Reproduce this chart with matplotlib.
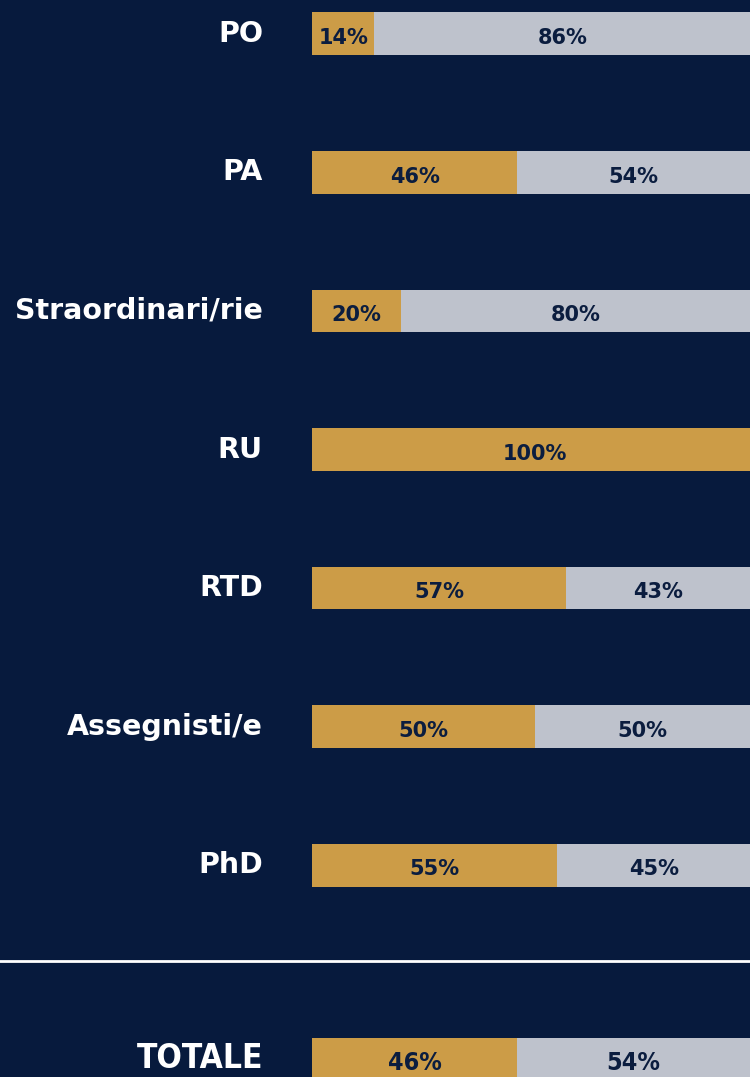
import numpy as np
import matplotlib.pyplot as plt
from matplotlib.lines import Line2D
from matplotlib.transforms import blended_transform_factory

# categories and shares (women / men)
categories = ["PO", "PA", "Straordinari/rie", "RU", "RTD", "Assegnisti/e", "PhD", "TOTALE"]
donne = [14, 46, 20, 100, 57, 50, 55, 46]
uomini = [86, 54, 80, 0, 43, 50, 45, 54]
row_pos = [0, 1, 2, 3, 4, 5, 6, 7.4]

BG = "#071a3d"
GOLD = "#cc9c47"
GREY = "#bec2cc"
DARK = "#0b1d3f"

fig = plt.figure(figsize=(7.5, 10.77), dpi=100, facecolor=BG)
ax = fig.add_axes([312 / 750, 0, 446 / 750, 1])
ax.set_facecolor(BG)
ax.set_xlim(0, 100)
ax.set_ylim(7.53, -0.245)
ax.axis("off")

h = 0.31
ax.barh(row_pos, donne, height=h, color=GOLD, linewidth=0)
ax.barh(row_pos, uomini, left=donne, height=h, color=GREY, linewidth=0)

for cat, y, d, u in zip(categories, row_pos, donne, uomini):
    total = cat == "TOTALE"
    stretch = "condensed" if total else "normal"
    ax.text(-11, y, cat, ha="right", va="center", color="white",
            fontsize=24 if total else 20.5, fontweight="bold",
            fontstretch=stretch, clip_on=False)
    size = 18 if total else 15
    if d > 0:
        ax.text(d / 2, y + 0.03, f"{d}%", ha="center", va="center", color=DARK,
                fontsize=size, fontweight="bold", fontstretch=stretch)
    if u > 0:
        ax.text(d + min(u, 98.2 - d) / 2, y + 0.03, f"{u}%", ha="center", va="center",
                color=DARK, fontsize=size, fontweight="bold", fontstretch=stretch)

# separator above the total row
tr = blended_transform_factory(fig.transFigure, ax.transData)
fig.add_artist(Line2D([0, 1], [6.69, 6.69], transform=tr, color="white", linewidth=2))

fig.savefig("out.png", dpi=100, facecolor=BG)
